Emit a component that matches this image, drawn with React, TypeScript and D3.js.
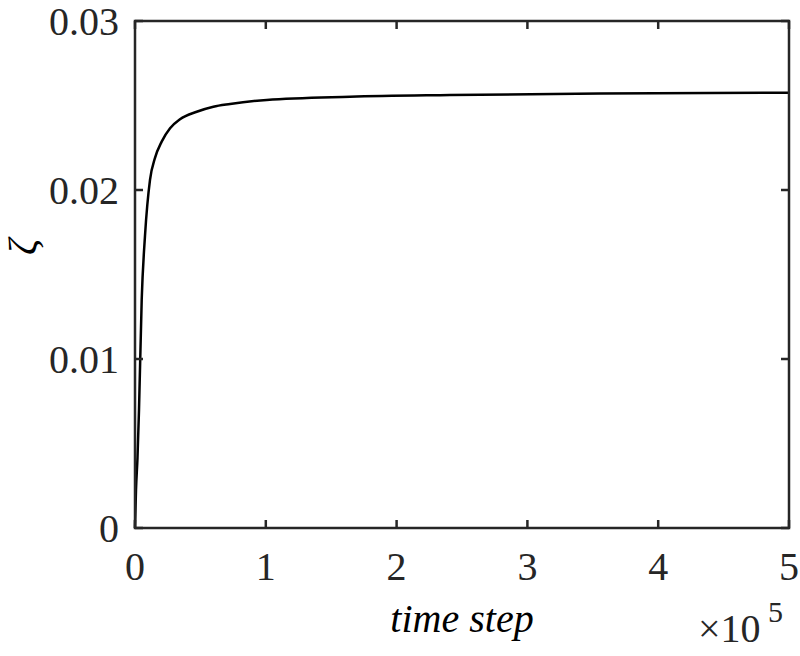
import React from "react";
import * as d3 from "d3";

// time step (×10^5) and ζ values
const steps = [0, 0.0076, 0.019, 0.0306, 0.0512, 0.0765, 0.1147, 0.153, 0.204, 0.268, 0.344, 0.472, 0.599, 0.727, 1.007, 1.644, 2.408, 3.555, 5.0];
const zeta = [0, 0.00225, 0.00414, 0.00698, 0.01349, 0.01730, 0.02060, 0.02190, 0.02286, 0.02365, 0.02418, 0.02463, 0.02493, 0.02509, 0.02533, 0.02552, 0.02562, 0.02571, 0.02576];
const xTicks = [0, 1, 2, 3, 4, 5];
const yTicks = [0, 0.01, 0.02, 0.03];
const yTickLabels = ["0", "0.01", "0.02", "0.03"];

const W = 800, H = 656;
const L = 135, R = 789, T = 21, B = 528;
const AX = "#262626";
const FONT = "'Liberation Serif', 'Times New Roman', serif";

export default function App() {
  const x = d3.scaleLinear().domain([0, 5]).range([L, R]);
  const y = d3.scaleLinear().domain([0, 0.03]).range([B, T]);
  const pts = steps.map((s, i) => [s, zeta[i]] as [number, number]);
  const line = d3.line<[number, number]>().x(d => x(d[0])).y(d => y(d[1])).curve(d3.curveMonotoneX);
  const tl = 8;
  return (
    <svg width={W} height={H} style={{ position: "absolute", left: 0, top: 0, background: "#fff" }} fontFamily={FONT}>
      <rect x={0} y={0} width={W} height={H} fill="#fff" />
      <path d={line(pts) || ""} fill="none" stroke="#000" strokeWidth={2.5} strokeLinejoin="round" />
      <rect x={L} y={T} width={R - L} height={B - T} fill="none" stroke={AX} strokeWidth={2.5} />
      {xTicks.map(t => (
        <g key={"x" + t}>
          <line x1={x(t)} x2={x(t)} y1={B} y2={B - tl} stroke={AX} strokeWidth={2.5} />
          <line x1={x(t)} x2={x(t)} y1={T} y2={T + tl} stroke={AX} strokeWidth={2.5} />
          <text x={x(t)} y={580} textAnchor="middle" fontSize={40} fill={AX}>{t}</text>
        </g>
      ))}
      {yTicks.map((t, i) => (
        <g key={"y" + t}>
          <line x1={L} x2={L + tl} y1={y(t)} y2={y(t)} stroke={AX} strokeWidth={2.5} />
          <line x1={R} x2={R - tl} y1={y(t)} y2={y(t)} stroke={AX} strokeWidth={2.5} />
          <text x={119} y={y(t) + 14} textAnchor="end" fontSize={40} fill={AX}>{yTickLabels[i]}</text>
        </g>
      ))}
      <text x={462} y={632} textAnchor="middle" fontSize={40} fontStyle="italic" fill="#000">time step</text>
      <text x={698} y={642} fontSize={40} fill={AX}>×10</text>
      <text x={768} y={622} fontSize={30} fill={AX}>5</text>
      <text transform="translate(36,247) rotate(-90)" textAnchor="middle" fontSize={40} fontStyle="italic" fill="#000">ζ</text>
    </svg>
  );
}
